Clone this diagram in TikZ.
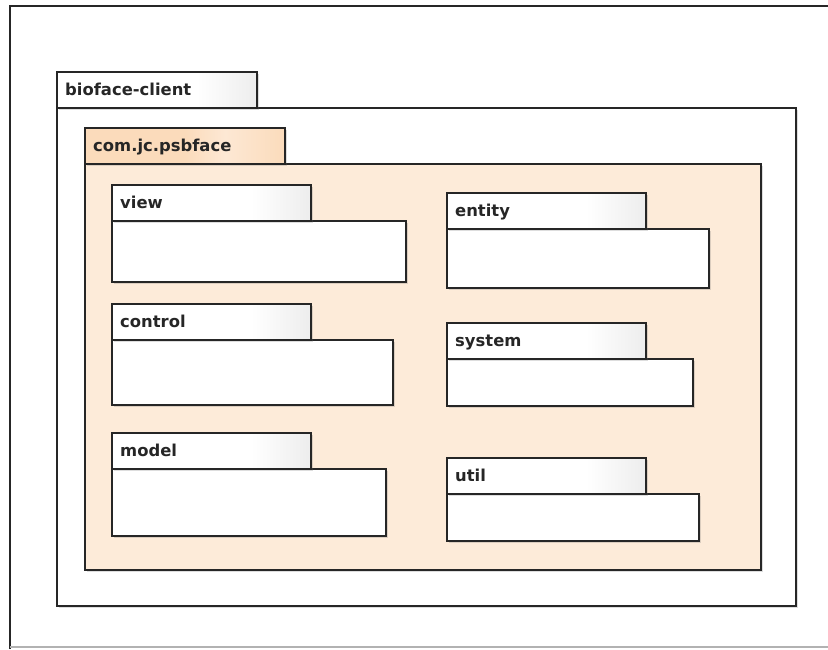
\documentclass[tikz,border=0pt]{standalone}
\usepackage{fontspec}
\setmainfont{DejaVu Sans}
\usetikzlibrary{shadows}
\definecolor{frameline}{HTML}{262626}
\definecolor{peachbody}{HTML}{FDEBD9}
\definecolor{peachA}{HTML}{FBDBBB}
\definecolor{peachB}{HTML}{FDE8D4}
\definecolor{peachC}{HTML}{F7C692}
\definecolor{tabgray}{HTML}{CFCFCF}
\pgfdeclarehorizontalshading{graytab}{100bp}{color(0bp)=(white); color(50bp)=(white); color(60bp)=(white); color(100bp)=(tabgray)}
\pgfdeclarehorizontalshading{peachtab}{100bp}{color(0bp)=(peachA); color(50bp)=(peachA); color(60bp)=(peachB); color(100bp)=(peachC)}
\tikzset{
  pkgline/.style={draw=frameline, line width=1.6pt},
  pkgshadow/.style={drop shadow={shadow xshift=2.5pt, shadow yshift=-2.5pt, opacity=0.22, fill=black!60}},
  tabbox/.style={pkgline, pkgshadow, anchor=north west, inner sep=0pt, shading=graytab},
  bodybox/.style={pkgline, pkgshadow, anchor=north west, inner sep=0pt, fill=white},
  pkglabel/.style={anchor=base west, inner sep=0pt, font=\bfseries\fontsize{16.4}{19}\selectfont, text=black!85}
}
\begin{document}
\begin{tikzpicture}[x=1pt, y=-1pt]
  \useasboundingbox (0,0) rectangle (828,649);
  \fill[white] (0,0) rectangle (828,649);
  % outer diagram frame
  \draw[frameline, line width=1.4pt] (10,649) -- (10,6) -- (828,6);
  \draw[black!30, line width=1.2pt] (10,647) -- (828,647);

  % package bioface-client
  \node[bodybox, minimum width=739pt, minimum height=498pt] (clientbody) at (56,107) {};
  \node[tabbox, minimum width=200pt, minimum height=36pt] (clienttab) at (56,71) {};
  \node[pkglabel] (clientlbl) at (65,95) {bioface-client};

  % package com.jc.psbface
  \node[bodybox, fill=peachbody, minimum width=676pt, minimum height=406pt] (psbbody) at (84,163) {};
  \node[tabbox, shading=peachtab, minimum width=200pt, minimum height=36pt] (psbtab) at (84,127) {};
  \node[pkglabel] (psblbl) at (93,151) {com.jc.psbface};

  % left column
  \node[bodybox, minimum width=294pt, minimum height=61pt] (viewbody) at (111,220) {};
  \node[tabbox, minimum width=199pt, minimum height=36pt] (viewtab) at (111,184) {};
  \node[pkglabel] (viewlbl) at (120,208) {view};

  \node[bodybox, minimum width=281pt, minimum height=65pt] (controlbody) at (111,339) {};
  \node[tabbox, minimum width=199pt, minimum height=36pt] (controltab) at (111,303) {};
  \node[pkglabel] (controllbl) at (120,327) {control};

  \node[bodybox, minimum width=274pt, minimum height=67pt] (modelbody) at (111,468) {};
  \node[tabbox, minimum width=199pt, minimum height=36pt] (modeltab) at (111,432) {};
  \node[pkglabel] (modellbl) at (120,456) {model};

  % right column
  \node[bodybox, minimum width=262pt, minimum height=59pt] (entitybody) at (446,228) {};
  \node[tabbox, minimum width=199pt, minimum height=36pt] (entitytab) at (446,192) {};
  \node[pkglabel] (entitylbl) at (455,216) {entity};

  \node[bodybox, minimum width=246pt, minimum height=47pt] (systembody) at (446,358) {};
  \node[tabbox, minimum width=199pt, minimum height=36pt] (systemtab) at (446,322) {};
  \node[pkglabel] (systemlbl) at (455,346) {system};

  \node[bodybox, minimum width=252pt, minimum height=47pt] (utilbody) at (446,493) {};
  \node[tabbox, minimum width=199pt, minimum height=36pt] (utiltab) at (446,457) {};
  \node[pkglabel] (utillbl) at (455,481) {util};
\end{tikzpicture}
\end{document}
